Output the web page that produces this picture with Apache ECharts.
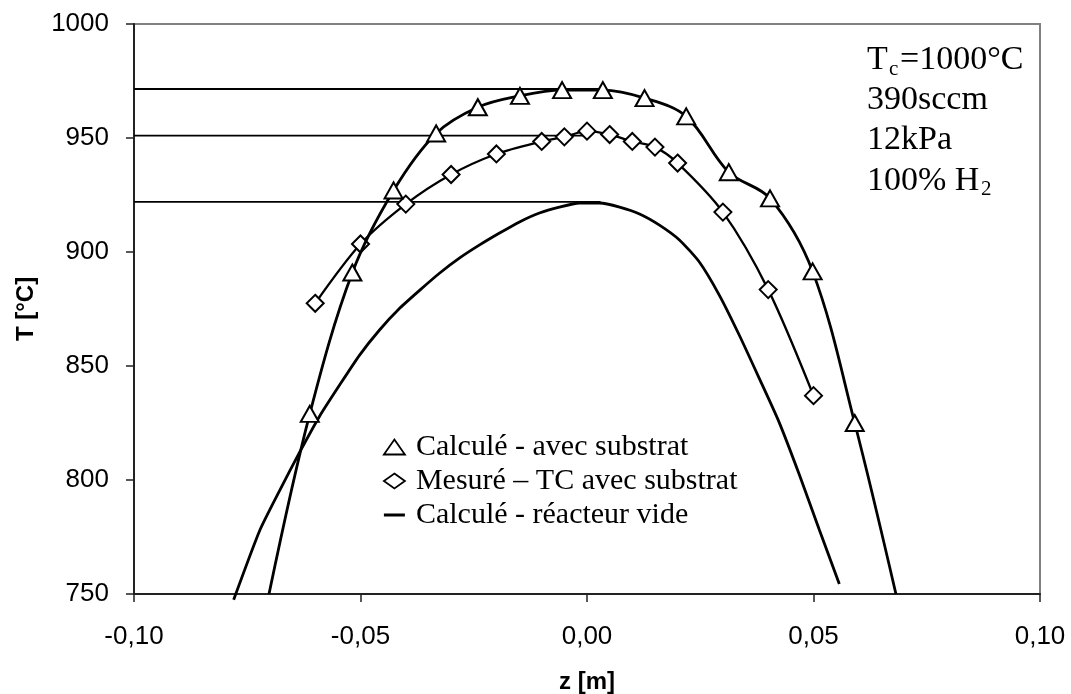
<!DOCTYPE html>
<html>
<head>
<meta charset="utf-8">
<script src="https://cdn.jsdelivr.net/npm/echarts@6/dist/echarts.min.js"></script>
<style>
  html, body { margin: 0; padding: 0; background: #fff; }
  #chart { width: 1071px; height: 694px; }
</style>
</head>
<body>
<div id="chart"></div>
<script>
// Calculé - avec substrat : points shown with triangle markers
const calcZ = [-0.0612, -0.0518, -0.0427, -0.0333, -0.0241, -0.0148, -0.0055, 0.0035, 0.0127, 0.0219, 0.0313, 0.0404, 0.0498, 0.0591];
const calcT = [829, 891, 927, 952, 963.5, 968.5, 971, 971, 967.5, 959.5, 935, 923.5, 891.5, 825];
// where the calculated curve runs out through the bottom of the plot
const calcTailZ = [-0.0702, 0.0682];
const calcTailT = [750, 750];

// Mesuré – TC avec substrat : thermocouple readings (diamonds)
const measZ = [-0.06, -0.05, -0.04, -0.03, -0.02, -0.01, -0.005, 0.0, 0.005, 0.01, 0.015, 0.02, 0.03, 0.04, 0.05];
const measT = [877.5, 903.5, 921, 934, 943, 948.5, 950.5, 953, 951.5, 948.5, 946, 939, 917.5, 883.5, 837];

// Calculé - réacteur vide : plain curve
const emptyZ = [-0.0780, -0.0722, -0.0678, -0.0634, -0.0590, -0.0546, -0.0502, -0.0458, -0.0413, -0.0369, -0.0325, -0.0281, -0.0237, -0.0193, -0.0149, -0.0105, -0.0061, -0.0017, 0.0028, 0.0072, 0.0116, 0.0160, 0.0204, 0.0248, 0.0292, 0.0336, 0.0380, 0.0424, 0.0469, 0.0513, 0.0557];
const emptyT = [747.5, 778.1, 795.6, 812.3, 828.1, 841.7, 854.8, 865.8, 875.4, 883.3, 890.8, 897.4, 903.1, 908.3, 913.2, 917.1, 919.7, 921.5, 921.5, 919.7, 916.7, 911.8, 905.3, 895.6, 881.1, 863.6, 844.7, 825.4, 802.2, 778.1, 754.4];

// horizontal guide lines marking each curve's maximum
const refT = [971.5, 951, 922];
const refEndZ = [0.003, 0.0, 0.003];

// series names
const seriesNames = ['Calculé - avec substrat', 'Mesuré – TC avec substrat', 'Calculé - réacteur vide'];

// conditions written in the upper right corner
const condTc = ['T', 'c', '=1000°C'];
const condLines = ['390sccm', '12kPa'];
const condGas = ['100% H', '2'];

const fmtZ = v => {
  if (Math.abs(v) < 1e-9) v = 0;
  return v.toFixed(2).replace('.', ',');
};
const fmtT = v => String(Math.round(v));

const pairs = (xs, ys) => xs.map((x, i) => [x, ys[i]]);

const calcData = [
  { value: [calcTailZ[0], calcTailT[0]], symbol: 'none' },
  ...pairs(calcZ, calcT),
  { value: [calcTailZ[1], calcTailT[1]], symbol: 'none' }
];

const openMarker = { color: '#fff', borderColor: '#000', borderWidth: 2 };
const legendMarker = { color: '#fff', borderColor: '#000', borderWidth: 1.8 };

const refSeries = refT.map((t, i) => ({
  type: 'line',
  data: [[-0.1, t], [refEndZ[i], t]],
  symbol: 'none',
  silent: true,
  lineStyle: { color: '#000', width: 1.8 },
  z: 1
}));

const chart = echarts.init(document.getElementById('chart'), null, { renderer: 'canvas' });

const serif = '"Liberation Serif", "Times New Roman", serif';
const sans = '"Liberation Sans", Arial, sans-serif';

chart.setOption({
  animation: false,
  backgroundColor: '#fff',
  grid: {
    left: 134, right: 31, top: 24, bottom: 100,
    outerBoundsMode: 'none', containLabel: false,
    show: true, borderColor: '#808080', borderWidth: 2, backgroundColor: 'transparent'
  },
  xAxis: {
    type: 'value', min: -0.1, max: 0.1, interval: 0.05,
    name: 'z [m]', nameLocation: 'middle', nameGap: 76,
    nameTextStyle: { fontFamily: sans, fontWeight: 'bold', fontSize: 24, color: '#000' },
    axisLine: { onZero: false, lineStyle: { color: '#222', width: 2 } },
    axisTick: { length: 8, lineStyle: { color: '#222', width: 1.5 } },
    axisLabel: { margin: 30, fontFamily: sans, fontSize: 26, color: '#000', formatter: fmtZ },
    splitLine: { show: false }
  },
  yAxis: {
    type: 'value', min: 750, max: 1000, interval: 50,
    name: 'T [°C]', nameLocation: 'middle', nameGap: 96,
    nameTextStyle: { fontFamily: sans, fontWeight: 'bold', fontSize: 24, color: '#000' },
    axisLine: { show: true, onZero: false, lineStyle: { color: '#222', width: 2 } },
    axisTick: { show: true, length: 8, lineStyle: { color: '#222', width: 1.5 } },
    axisLabel: { margin: 25, fontFamily: sans, fontSize: 26, color: '#000', formatter: fmtT },
    splitLine: { show: false }
  },
  legend: {
    orient: 'vertical', left: 378, top: 427,
    itemWidth: 21, itemHeight: 15, itemGap: 4,
    selectedMode: false,
    textStyle: { fontFamily: serif, fontSize: 30, color: '#000', padding: [0, 0, 0, 6] },
    data: [
      { name: seriesNames[0], icon: 'triangle', itemStyle: legendMarker },
      { name: seriesNames[1], icon: 'diamond', itemStyle: legendMarker },
      { name: seriesNames[2], icon: 'path://M0,0H21V3H0Z', itemStyle: { color: '#000', borderWidth: 0 } }
    ]
  },
  graphic: [
    { type: 'text', x: 867, y: 60.5, style: { text: condTc[0], font: '34px ' + serif, fill: '#000', verticalAlign: 'middle' } },
    { type: 'text', x: 889, y: 69.5, style: { text: condTc[1], font: '21px ' + serif, fill: '#000', verticalAlign: 'middle' } },
    { type: 'text', x: 900, y: 60.5, style: { text: condTc[2], font: '34px ' + serif, fill: '#000', verticalAlign: 'middle' } },
    { type: 'text', x: 867, y: 100.5, style: { text: condLines[0], font: '34px ' + serif, fill: '#000', verticalAlign: 'middle' } },
    { type: 'text', x: 867, y: 140.5, style: { text: condLines[1], font: '34px ' + serif, fill: '#000', verticalAlign: 'middle' } },
    { type: 'text', x: 867, y: 181.5, style: { text: condGas[0], font: '34px ' + serif, fill: '#000', verticalAlign: 'middle' } },
    { type: 'text', x: 981, y: 189.5, style: { text: condGas[1], font: '21px ' + serif, fill: '#000', verticalAlign: 'middle' } }
  ],
  series: [
    ...refSeries,
    {
      name: seriesNames[2],
      type: 'line',
      data: pairs(emptyZ, emptyT),
      smooth: 0.2,
      symbol: 'none',
      clip: false,
      lineStyle: { color: '#000', width: 2.8 },
      itemStyle: { color: '#000' },
      z: 2
    },
    {
      name: seriesNames[1],
      type: 'line',
      data: pairs(measZ, measT),
      smooth: 0.3,
      symbol: 'diamond',
      symbolSize: 17,
      showAllSymbol: true,
      lineStyle: { color: '#000', width: 2.3 },
      itemStyle: openMarker,
      z: 3
    },
    {
      name: seriesNames[0],
      type: 'line',
      data: calcData,
      smooth: 0.35,
      symbol: 'triangle',
      symbolSize: [18, 16],
      showAllSymbol: true,
      lineStyle: { color: '#000', width: 2.8 },
      itemStyle: openMarker,
      z: 4
    }
  ]
});
</script>
</body>
</html>
